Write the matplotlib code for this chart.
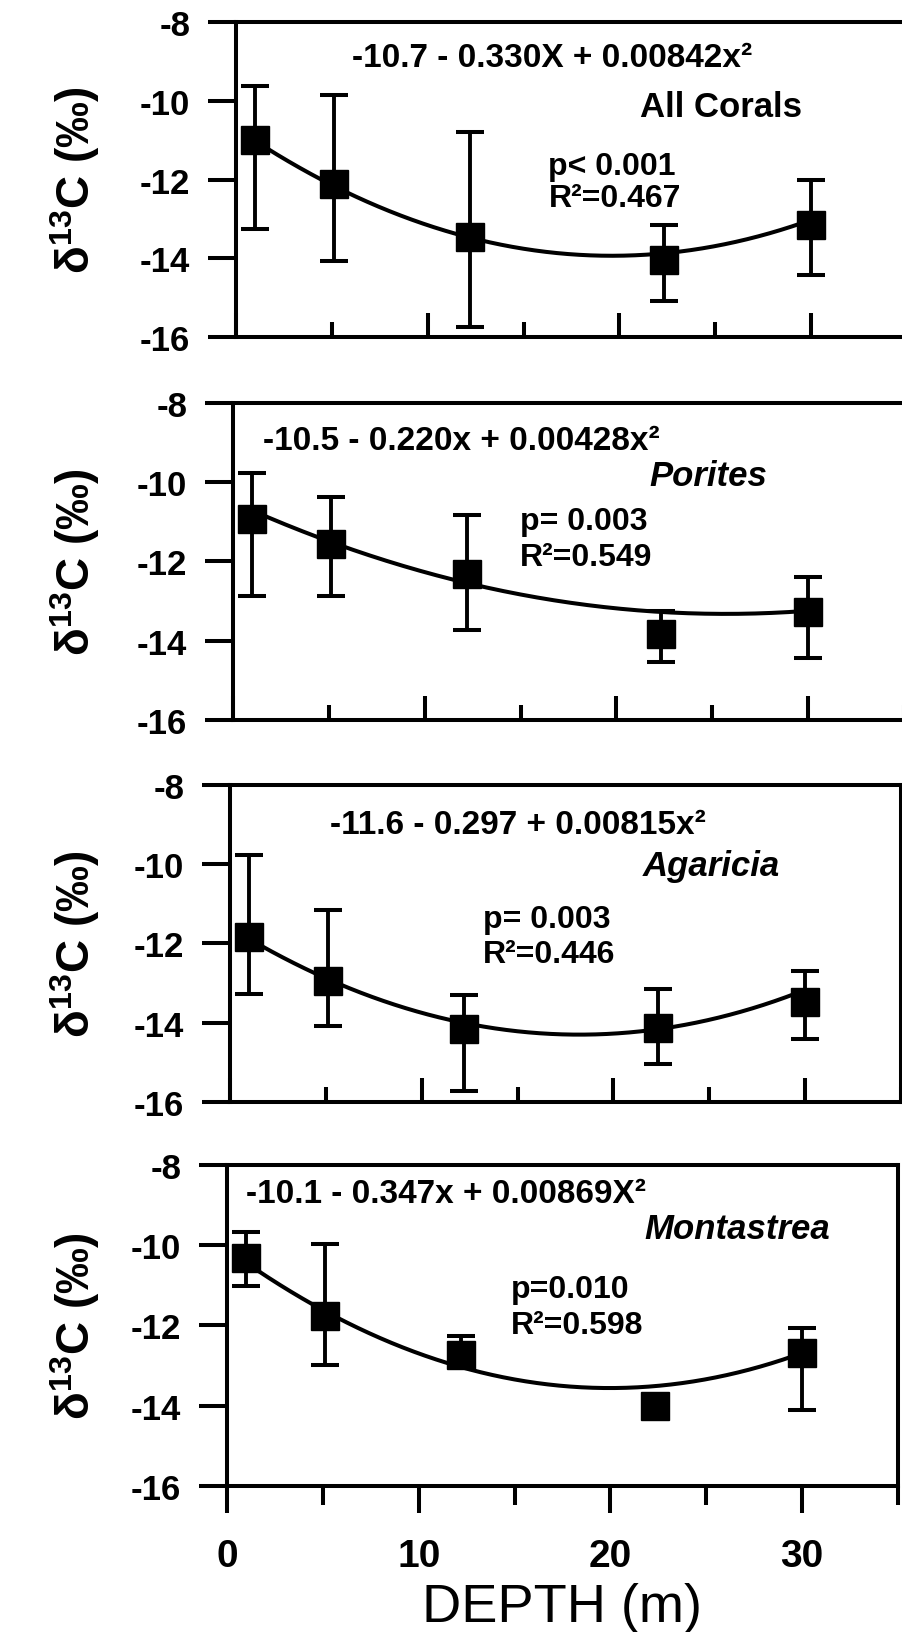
import numpy as np
import matplotlib
matplotlib.use("Agg")
import matplotlib.pyplot as plt

plt.rcParams['font.family'] = ['Liberation Sans', 'DejaVu Sans']
plt.rcParams['axes.unicode_minus'] = False
plt.rcParams['mathtext.fontset'] = 'custom'
plt.rcParams['mathtext.rm'] = 'Liberation Sans:bold'
plt.rcParams['mathtext.it'] = 'Liberation Sans:bold'
plt.rcParams['mathtext.bf'] = 'Liberation Sans:bold'

# sampling depths (m)
depth = [1.0, 5.1, 12.2, 22.3, 30.0]

# mean d13C per depth, with top and bottom of each error bar
mean_all = [-10.99, -12.11, -13.46, -14.03, -13.15]
hi_all = [-9.63, -9.85, -10.80, -13.15, -12.00]
lo_all = [-13.25, -14.07, -15.75, -15.07, -14.41]

mean_por = [-10.93, -11.55, -12.32, -13.84, -13.27]
hi_por = [-9.78, -10.37, -10.83, -13.25, -12.40]
lo_por = [-12.88, -12.88, -13.73, -14.55, -14.43]

mean_aga = [-11.85, -12.96, -14.16, -14.14, -13.47]
hi_aga = [-9.77, -11.17, -13.31, -13.15, -12.69]
lo_aga = [-13.28, -14.08, -15.72, -15.05, -14.42]

mean_mon = [-10.33, -11.76, -12.74, -14.00, -12.69]
hi_mon = [-9.68, -9.97, -12.27, -13.85, -12.07]
lo_mon = [-11.01, -12.99, -13.00, -14.15, -14.10]

# quadratic fits: a + b*x + c*x^2
coef_all = (-10.7, -0.330, 0.00842)
coef_por = (-10.5, -0.220, 0.00428)
coef_aga = (-11.6, -0.297, 0.00815)
coef_mon = (-10.1, -0.347, 0.00869)

names = ['All Corals', 'Porites', 'Agaricia', 'Montastrea']
equations = ['-10.7 - 0.330X + 0.00842x²',
             '-10.5 - 0.220x + 0.00428x²',
             '-11.6 - 0.297 + 0.00815x²',
             '-10.1 - 0.347x + 0.00869X²']
p_text = ['p< 0.001', 'p= 0.003', 'p= 0.003', 'p=0.010']
r2_text = ['R²=0.467', 'R²=0.549', 'R²=0.446', 'R²=0.598']

panels = [
    (mean_all, hi_all, lo_all, coef_all),
    (mean_por, hi_por, lo_por, coef_por),
    (mean_aga, hi_aga, lo_aga, coef_aga),
    (mean_mon, hi_mon, lo_mon, coef_mon),
]

# text placement per panel (data coords)
eq_pos = [(16.5, -8.90), (11.9, -8.95), (15.0, -8.99), (11.4, -8.70)]
name_pos = [(25.3, -10.15), (24.8, -9.84), (25.1, -10.04), (26.6, -9.58)]
stat_pos = [(16.3, -11.67, -12.47), (14.95, -10.97, -11.90),
            (13.2, -11.39, -12.27), (14.8, -11.09, -12.00)]

W, H = 902, 1633
fig = plt.figure(figsize=(W / 100, H / 100), dpi=100)

# the frames lean slightly: each panel sits a little further right than the one below
lefts_px = [236, 233, 230, 227]
width_px = 671
rows_px = [(22.7, 338.3), (404, 720.7), (786, 1102.7), (1166, 1486.7)]

LW = 2.9
for i, ((mean, hi, lo, coef), (top, bot)) in enumerate(zip(panels, rows_px)):
    ax = fig.add_axes([lefts_px[i] / W, 1 - bot / H, width_px / W, (bot - top) / H])
    mean = np.array(mean)
    yerr = [mean - np.array(lo), np.array(hi) - mean]
    ax.errorbar(depth, mean, yerr=yerr, fmt='s', ms=20, mfc='black', mec='black',
                ecolor='black', elinewidth=2.8, capsize=10, capthick=2.9, zorder=3)
    a, b, c = coef
    xs = np.linspace(depth[0], depth[-1], 200)
    ax.plot(xs, a + b * xs + c * xs ** 2, color='black', lw=2.9, zorder=2)

    ax.set_xlim(0, 35)
    ax.set_ylim(-16, -8)
    ax.set_yticks([-16, -14, -12, -10, -8])
    ax.set_yticklabels(['-16', '-14', '-12', '-10', '-8'])
    ax.set_xticks([0, 10, 20, 30])
    ax.set_xticks([5, 15, 25, 35], minor=True)
    for s in ax.spines.values():
        s.set_linewidth(LW)
    ax.tick_params(axis='y', which='major', direction='out', length=20, width=LW,
                   pad=13, labelsize=25)
    for lab in ax.get_yticklabels():
        lab.set_fontweight('bold')
    last = i == len(panels) - 1
    ax.tick_params(axis='x', which='major', direction='out' if last else 'in',
                   length=19.5 if last else 17, width=LW, pad=18, labelsize=28,
                   labelbottom=last)
    ax.tick_params(axis='x', which='minor', direction='out' if last else 'in',
                   length=14 if last else 11, width=LW)
    if last:
        for lab in ax.get_xticklabels():
            lab.set_fontweight('bold')

    ax.set_ylabel('δ$^{13}$C (‰)', fontsize=33, fontweight='bold')
    ax.yaxis.set_label_coords((102 - lefts_px[i]) / width_px, 0.5)

    ex, ey = eq_pos[i]
    ax.text(ex, ey, equations[i], ha='center', va='center', fontsize=24, fontweight='bold')
    nx, ny = name_pos[i]
    ax.text(nx, ny, names[i], ha='center', va='center', fontsize=25, fontweight='bold',
            style='normal' if i == 0 else 'italic')
    sx, py, ry = stat_pos[i]
    ax.text(sx, py, p_text[i], ha='left', va='center', fontsize=23, fontweight='bold')
    ax.text(sx, ry, r2_text[i], ha='left', va='center', fontsize=23, fontweight='bold')

fig.text((lefts_px[-1] + width_px / 2) / W, 1 - 1622 / H, 'DEPTH (m)', ha='center',
         va='baseline', fontsize=39)

fig.savefig('out.png', dpi=100, facecolor='white')
